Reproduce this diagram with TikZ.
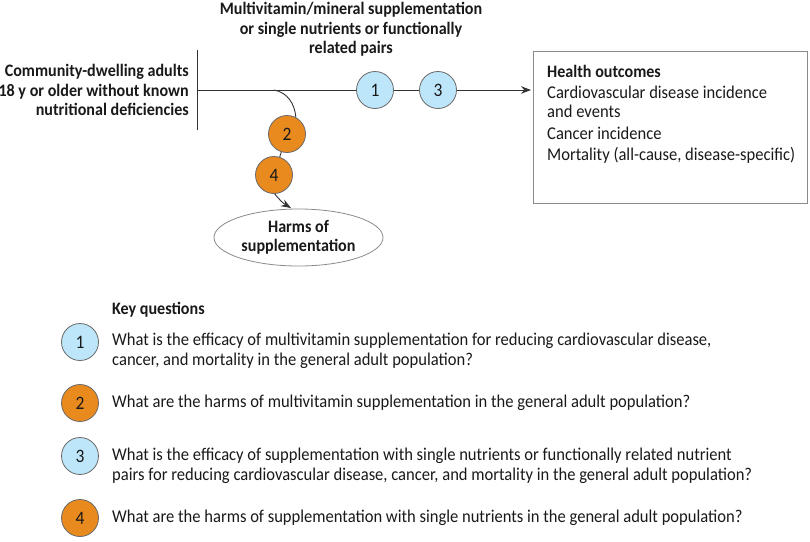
\documentclass[tikz,border=0pt]{standalone}
\usepackage{fontspec}
\setmainfont{Carlito}[FakeStretch=0.92]
\usetikzlibrary{shapes.geometric,arrows.meta}
\definecolor{kqblue}{HTML}{BEE6FA}
\definecolor{kqorange}{HTML}{E88A1E}
\definecolor{rimgray}{HTML}{6A6A6A}
\definecolor{linegray}{HTML}{333333}
\definecolor{boxgray}{HTML}{8A8A8A}
\newcommand{\regfont}{\fontsize{18}{20}\selectfont}
\newcommand{\bldfont}{\fontsize{17.5}{19.5}\selectfont\bfseries}
\begin{document}
\begin{tikzpicture}[x=1pt,y=-1pt,
  every node/.style={font=\regfont, text=black!90},
  kq/.style={circle, draw=rimgray, line width=0.8pt, minimum size=37pt, inner sep=0pt, font=\fontsize{19}{20}\selectfont},
  kqb/.style={kq, fill=kqblue},
  kqo/.style={kq, fill=kqorange},
  conn/.style={draw=linegray, line width=0.9pt},
  arr/.style={conn, -{Stealth[length=10pt,width=7.5pt]}},
  lbl/.style={font=\bldfont, inner sep=0pt},
  txt/.style={inner sep=0pt, anchor=west, align=left},
]
\useasboundingbox (0,0) rectangle (810,541);

% population
\node[lbl, align=right, anchor=east] (pop) at (189,90) {Community-dwelling adults\\18 y or older without known\\nutritional deficiencies};
\coordinate (bartop) at (197,50);
\coordinate (barbot) at (197,130);
\draw[conn] (bartop) -- (barbot);

% intervention label
\node[lbl, align=center] (interv) at (351,29.5) {Multivitamin/mineral supplementation\\or single nutrients or functionally\\related pairs};

% outcomes box
\node[draw=boxgray, line width=0.8pt, minimum width=274pt, minimum height=152pt, inner sep=0pt] (hbox) at (670,127) {};
\node[txt, font=\bldfont] (h0) at (547,71) {Health outcomes};
\node[txt] (h1) at (547,92) {Cardiovascular disease incidence};
\node[txt] (h2) at (547,111) {and events};
\node[txt] (h3) at (547,133) {Cancer incidence};
\node[txt] (h4) at (547,155) {Mortality (all-cause, disease-specific)};

% main line
\coordinate (start) at (197,90);
\coordinate (branch) at (274,90);
\coordinate (tip) at (531,90);
\node[kqb] (c1) at (375,90) {1};
\node[kqb] (c3) at (438,90) {3};
\draw[conn] (start) -- (c1);
\draw[conn] (c1) -- (c3);
\draw[arr] (c3) -- (tip);

% harms branch
\node[kqo] (c2) at (287,134) {2};
\node[kqo] (c4) at (274,175) {4};
\draw[conn] (branch) to[out=-10,in=95] (c2.62);
\draw[conn] (c2) -- (c4);
\node[ellipse, draw=boxgray, line width=0.8pt, minimum width=169pt, minimum height=57pt, inner sep=0pt, align=center, font=\bldfont] (harm) at (298.5,237.5) {Harms of\\supplementation};
\coordinate (htip) at (291,208);
\draw[arr] (c4.-88) to[bend right=10] (htip);

% key questions
\node[txt, font=\bldfont] (kqh) at (112,310) {Key questions};
\node[kqb] (k1) at (80,342) {1};
\node[kqo] (k2) at (80,403) {2};
\node[kqb] (k3) at (80,456) {3};
\node[kqo] (k4) at (80,518) {4};
\node[txt] (q1) at (112,351) {What is the efficacy of multivitamin supplementation for reducing cardiovascular disease,\\cancer, and mortality in the general adult population?};
\node[txt] (q2) at (112,403) {What are the harms of multivitamin supplementation in the general adult population?};
\node[txt] (q3) at (112,466) {What is the efficacy of supplementation with single nutrients or functionally related nutrient\\pairs for reducing cardiovascular disease, cancer, and mortality in the general adult population?};
\node[txt] (q4) at (112,518) {What are the harms of supplementation with single nutrients in the general adult population?};
\end{tikzpicture}
\end{document}
